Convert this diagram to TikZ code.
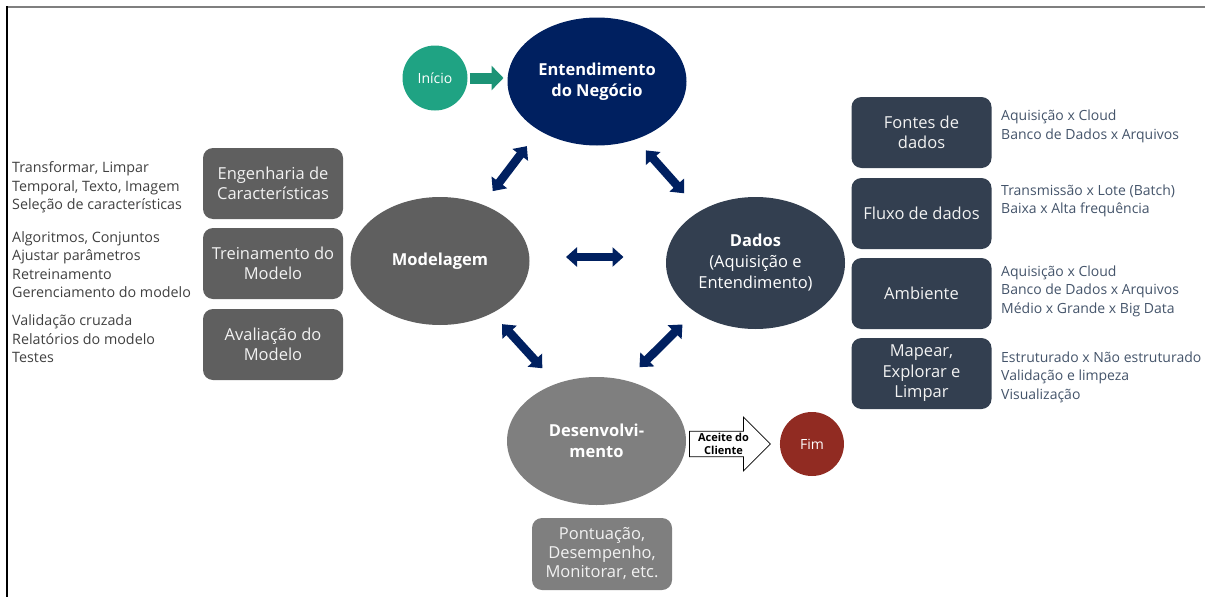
\documentclass[tikz,border=0pt]{standalone}
\usepackage{fontspec}
\setmainfont{Open Sans}
\usepackage{tikz}
\usetikzlibrary{positioning,shapes.geometric,shapes.arrows,arrows.meta}
\definecolor{navy}{HTML}{002060}
\definecolor{verde}{HTML}{1FA383}
\definecolor{cinza}{HTML}{5F5F5F}
\definecolor{cinzaclaro}{HTML}{7F7F7F}
\definecolor{ardosia}{HTML}{333F50}
\definecolor{vinho}{HTML}{912B22}
\definecolor{textoesq}{HTML}{404040}
\definecolor{textodir}{HTML}{44546A}

\begin{document}
\begin{tikzpicture}[x=1pt, y=-1pt,
  fase/.style={ellipse, minimum width=179pt, minimum height=128pt, inner sep=0pt, outer sep=0pt,
    text=white, align=center, font=\fontsize{16.5}{21}\selectfont},
  etapa/.style={rounded corners=10pt, minimum width=140pt, minimum height=71pt, inner sep=2pt,
    text=white!95!black, align=center, font=\fontsize{16.5}{20.5}\selectfont},
  nota/.style={anchor=west, align=left, inner sep=0pt, font=\fontsize{14.3}{18.5}\selectfont},
  ponta/.style={circle, minimum size=65pt, inner sep=0pt, outer sep=0pt, text=white,
    font=\fontsize{14}{17}\selectfont},
  vai/.style={navy, line width=8.5pt, {Triangle[width=19pt,length=11pt]}-{Triangle[width=19pt,length=11pt]}},
  ]
  \useasboundingbox (0,0) rectangle (1205,597);
  % Frame
  \draw[cinzaclaro, line width=2pt] (6,6.5) -- (1205,6.5);
  \draw[black, line width=2pt] (6.5,6) -- (6.5,597);
  % Phases
  \node[fase, fill=navy, font=\fontsize{16.5}{21}\selectfont\bfseries] (ent) at (597,81.5) {Entendimento\\do Negócio};
  \node[fase, fill=cinza, font=\fontsize{16.5}{21}\selectfont\bfseries] (mod) at (440,261) {Modelagem};
  \node[fase, fill=ardosia, minimum height=132pt] (dados) at (755.5,263) {\textbf{Dados}\\(Aquisição e\\Entendimento)};
  \node[fase, fill=cinzaclaro, font=\fontsize{16.5}{21}\selectfont\bfseries] (dev) at (596.5,441) {Desenvolvi-\\mento};
  % Start and end
  \node[ponta, fill=verde] (ini) at (435,78) {Início};
  \draw[verde!90!black, line width=11pt, -{Triangle[width=24pt,length=12pt]}, shorten <=2pt, shorten >=4pt]
    (ini.east) -- (ini.east -| ent.west);
  \node[single arrow, draw=black, fill=white, line width=0.8pt, single arrow head extend=13.5pt,
    single arrow head indent=0pt, minimum height=81pt, minimum width=54pt, inner sep=1pt,
    anchor=tail, align=center, font=\fontsize{11}{13}\selectfont\bfseries] (ace) at (689,444) {Aceite do\\Cliente};
  \node[ponta, fill=vinho, minimum size=64pt, right=9pt of ace.tip] (fim) {Fim};
  % Cycle arrows
  \draw[vai, shorten <=20pt, shorten >=17pt] (ent.220) -- (mod.53);
  \draw[vai, shorten <=15pt, shorten >=24pt] (ent.304) -- (dados.137);
  \draw[vai, shorten <=36.5pt, shorten >=42.5pt] ([yshift=4pt]mod.east) -- ([yshift=4pt]mod.east -| dados.west);
  \draw[vai, shorten <=15pt, shorten >=21pt] (mod.315) -- (dev.125);
  \draw[vai, shorten <=18pt, shorten >=19pt] (dados.219) -- (dev.64);
  % Modelling steps
  \node[etapa, fill=cinza] (eng) at (273,183.5) {Engenharia de\\Características};
  \node[etapa, fill=cinza] (tre) at (273,263.5) {Treinamento do\\Modelo};
  \node[etapa, fill=cinza] (ava) at (273,344.5) {Avaliação do\\Modelo};
  \node[nota, text=textoesq] (neng) at (12,187.5) {Transformar, Limpar\\Temporal, Texto, Imagem\\Seleção de características};
  \node[nota, text=textoesq] (ntre) at (12,264.5) {Algoritmos, Conjuntos\\Ajustar parâmetros\\Retreinamento\\Gerenciamento do modelo};
  \node[nota, text=textoesq] (nava) at (12,339) {Validação cruzada\\Relatórios do modelo\\Testes};
  % Data steps
  \node[etapa, fill=ardosia] (fon) at (921.5,132.5) {Fontes de\\dados};
  \node[etapa, fill=ardosia] (flu) at (921.5,213.5) {Fluxo de dados};
  \node[etapa, fill=ardosia] (amb) at (921.5,293.5) {Ambiente};
  \node[etapa, fill=ardosia] (map) at (921.5,373.5) {Mapear,\\Explorar e\\Limpar};
  \node[nota, text=textodir, font=\fontsize{14}{18.5}\selectfont] (nfon) at (1001,126.5) {Aquisição x Cloud\\Banco de Dados x Arquivos};
  \node[nota, text=textodir, font=\fontsize{14}{18.5}\selectfont] (nflu) at (1001,201) {Transmissão x Lote (Batch)\\Baixa x Alta frequência};
  \node[nota, text=textodir, font=\fontsize{14}{18.5}\selectfont] (namb) at (1001,291) {Aquisição x Cloud\\Banco de Dados x Arquivos\\Médio x Grande x Big Data};
  \node[nota, text=textodir, font=\fontsize{14}{18.5}\selectfont] (nmap) at (1001,377) {Estruturado x Não estruturado\\Validação e limpeza\\Visualização};
  % Deployment output
  \node[etapa, fill=cinzaclaro, minimum height=72pt, font=\fontsize{16.5}{19}\selectfont] (pon) at (602,554) {Pontuação,\\Desempenho,\\Monitorar, etc.};
\end{tikzpicture}
\end{document}
